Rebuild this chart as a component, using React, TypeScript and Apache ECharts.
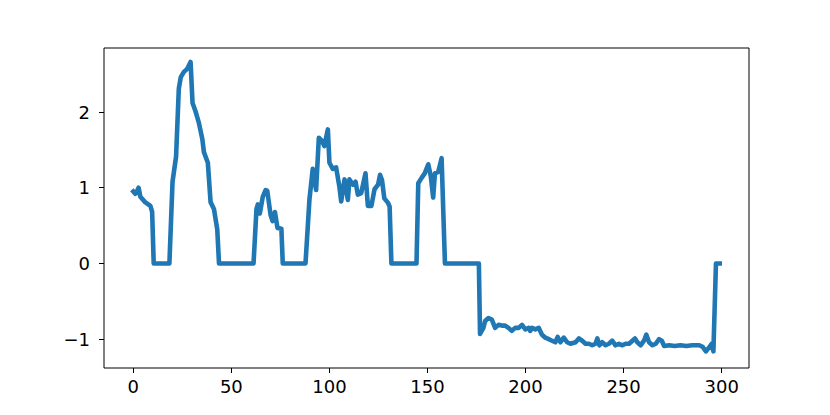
import React, { useEffect, useRef } from "react";
import * as echarts from "echarts";

// [x, y] vertices of the single line
const segStart: number[][] = [
  [0, 0.95], [1, 0.92], [2, 0.96], [2.7, 1.0], [3.6, 0.88], [6, 0.81], [8.7, 0.76], [9.6, 0.68],
  [10.4, 0], [18.4, 0], [20, 1.08], [21.8, 1.41], [23.2, 2.31], [24.2, 2.46], [25.8, 2.53],
  [27.5, 2.57], [29.2, 2.66], [30.2, 2.12], [31.7, 2.01], [33.4, 1.86], [35.2, 1.64], [36, 1.47],
  [38, 1.33], [39.4, 0.81], [41.1, 0.72], [42.8, 0.45], [43.7, 0],
];
const segSecond: number[][] = [
  [61.3, 0], [62.8, 0.72], [63.5, 0.78], [64.5, 0.66], [66, 0.88], [67.5, 0.97], [68.3, 0.96],
  [70, 0.64], [71, 0.56], [72.2, 0.68], [73.5, 0.47], [75.5, 0.46], [76.2, 0],
];
const segThird: number[][] = [
  [87.8, 0], [89.8, 0.84], [91.5, 1.25], [93.2, 0.97], [94.6, 1.66], [96.2, 1.62], [97.4, 1.55],
  [99.2, 1.77], [100, 1.33], [101.7, 1.25], [103.4, 1.27], [105.1, 1.01], [106, 0.82],
  [107.7, 1.11], [109.4, 0.84], [110.2, 1.11], [112, 1.04], [113.3, 1.08], [114.5, 0.91],
  [116.2, 0.93], [118.4, 1.19], [119.6, 0.76], [121.4, 0.76], [123, 0.98], [124.8, 1.04],
  [125.8, 1.17], [126.8, 1.1], [128, 0.86], [129.9, 0.8], [130.7, 0.75], [131.6, 0],
];
const segFourth: number[][] = [
  [144.4, 0], [145.3, 1.06], [147, 1.13], [148.6, 1.19], [150.4, 1.31], [151.7, 1.15],
  [152.9, 0.87], [153.8, 1.19], [155.5, 1.21], [157.2, 1.39], [158.9, 0], [176.2, 0],
];
const segTail: number[][] = [
  [176.8, -0.93], [178.5, -0.85], [179.4, -0.76], [181.1, -0.72], [182.8, -0.74], [184.5, -0.85],
  [186.2, -0.81], [187.9, -0.82], [189.6, -0.82], [191.3, -0.85], [193, -0.89], [194.7, -0.85],
  [196.5, -0.85], [198.2, -0.81], [199.9, -0.87], [201.6, -0.85], [202.4, -0.89], [203.3, -0.85],
  [205, -0.87], [206.7, -0.85], [208.4, -0.94], [210.1, -0.98], [211.8, -1.0], [213.5, -1.02],
  [215.2, -1.04], [216.4, -0.97], [217.8, -1.04], [219.5, -0.98], [221.2, -1.04], [222.9, -1.06],
  [225.5, -1.04], [227.2, -0.99], [228.9, -1.02], [230.6, -1.06], [232.3, -1.06], [234, -1.08],
  [235.7, -1.06], [236.6, -0.99], [237.7, -1.08], [239.1, -1.04], [240.8, -1.08], [242.5, -1.06],
  [244.2, -1.02], [245.9, -1.08], [247.6, -1.06], [249.4, -1.08], [251, -1.06], [252.8, -1.06],
  [254.5, -1.02], [255.8, -0.99], [257, -1.04], [258.7, -1.08], [260.4, -1.02], [261.6, -0.94],
  [263, -1.04], [264.7, -1.08], [266.4, -1.06], [268.1, -1.0], [269.5, -1.02], [270.7, -1.09],
  [273.3, -1.08], [276, -1.09], [279, -1.08], [282, -1.09], [285, -1.08], [288.6, -1.08],
  [290.3, -1.1], [292, -1.16], [293.8, -1.1], [295, -1.06], [295.8, -1.16], [297.1, 0], [299, 0],
];

const xTicks = [0, 50, 100, 150, 200, 250, 300];
const yTicks = [-1, 0, 1, 2];

export default function App() {
  const ref = useRef<HTMLDivElement>(null);
  useEffect(() => {
    if (!ref.current) return;
    const chart = echarts.init(ref.current, undefined, { renderer: "svg" });
    const data = [...segStart, ...segSecond, ...segThird, ...segFourth, ...segTail];
    const font = "'DejaVu Sans', sans-serif";
    chart.setOption({
      animation: false,
      backgroundColor: "#fff",
      grid: {
        left: 104, right: 81, top: 48, bottom: 47,
        show: true, borderColor: "#000", borderWidth: 1, backgroundColor: "transparent",
      },
      xAxis: {
        type: "value", min: -14.95, max: 313.95, position: "bottom",
        axisLine: { show: false, onZero: false },
        splitLine: { show: false },
        axisTick: { show: true, length: 5, lineStyle: { color: "#000", width: 1 }, customValues: xTicks },
        axisLabel: { customValues: xTicks, fontSize: 18, color: "#000", margin: 9, fontFamily: font },
      },
      yAxis: {
        type: "value", min: -1.38, max: 2.845, position: "left",
        axisLine: { show: false, onZero: false },
        splitLine: { show: false },
        axisTick: { show: true, length: 5, lineStyle: { color: "#000", width: 1 }, customValues: yTicks },
        axisLabel: {
          customValues: yTicks, fontSize: 18, color: "#000", margin: 14, fontFamily: font,
          formatter: (v: number) => (v < 0 ? "\u2212" + Math.abs(v) : String(v)),
        },
      },
      series: [
        {
          type: "line",
          data,
          showSymbol: false,
          lineStyle: { color: "#1f77b4", width: 4.6, join: "round", cap: "square" },
        },
      ],
    });
    return () => chart.dispose();
  }, []);
  return (
    <div
      ref={ref}
      style={{ position: "absolute", left: 0, top: 0, width: 830, height: 415 }}
    />
  );
}
